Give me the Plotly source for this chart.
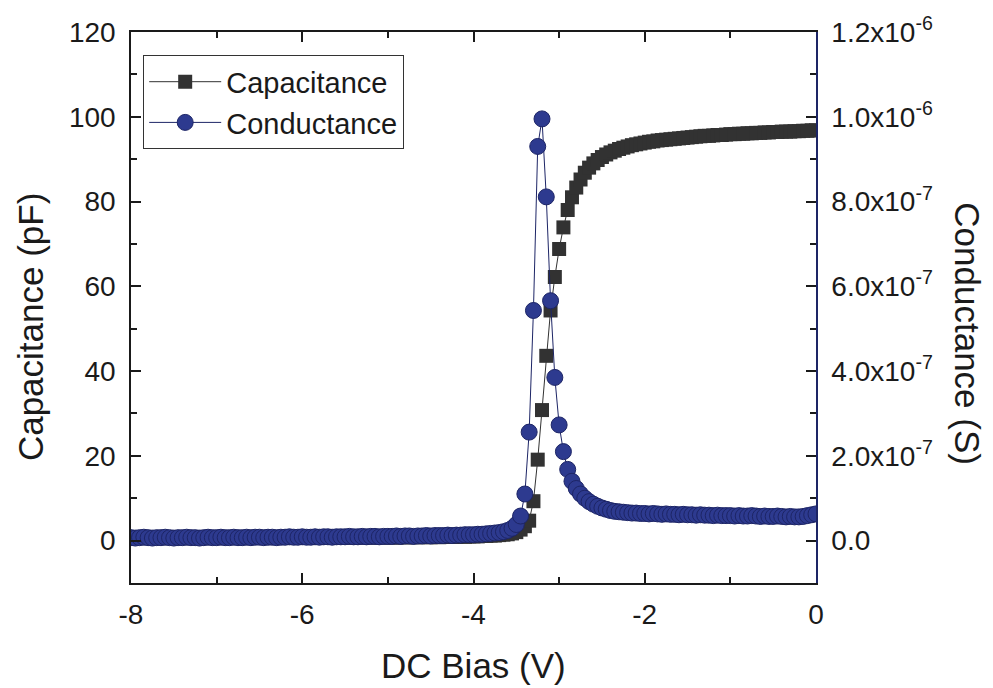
import plotly.graph_objects as go

# ---- data ----
DC_BIAS = [
    -8.00, -7.95, -7.90, -7.85, -7.80, -7.75, -7.70, -7.65, -7.60, -7.55,
    -7.50, -7.45, -7.40, -7.35, -7.30, -7.25, -7.20, -7.15, -7.10, -7.05,
    -7.00, -6.95, -6.90, -6.85, -6.80, -6.75, -6.70, -6.65, -6.60, -6.55,
    -6.50, -6.45, -6.40, -6.35, -6.30, -6.25, -6.20, -6.15, -6.10, -6.05,
    -6.00, -5.95, -5.90, -5.85, -5.80, -5.75, -5.70, -5.65, -5.60, -5.55,
    -5.50, -5.45, -5.40, -5.35, -5.30, -5.25, -5.20, -5.15, -5.10, -5.05,
    -5.00, -4.95, -4.90, -4.85, -4.80, -4.75, -4.70, -4.65, -4.60, -4.55,
    -4.50, -4.45, -4.40, -4.35, -4.30, -4.25, -4.20, -4.15, -4.10, -4.05,
    -4.00, -3.95, -3.90, -3.85, -3.80, -3.75, -3.70, -3.65, -3.60, -3.55,
    -3.50, -3.45, -3.40, -3.35, -3.30, -3.25, -3.20, -3.15, -3.10, -3.05,
    -3.00, -2.95, -2.90, -2.85, -2.80, -2.75, -2.70, -2.65, -2.60, -2.55,
    -2.50, -2.45, -2.40, -2.35, -2.30, -2.25, -2.20, -2.15, -2.10, -2.05,
    -2.00, -1.95, -1.90, -1.85, -1.80, -1.75, -1.70, -1.65, -1.60, -1.55,
    -1.50, -1.45, -1.40, -1.35, -1.30, -1.25, -1.20, -1.15, -1.10, -1.05,
    -1.00, -0.95, -0.90, -0.85, -0.80, -0.75, -0.70, -0.65, -0.60, -0.55,
    -0.50, -0.45, -0.40, -0.35, -0.30, -0.25, -0.20, -0.15, -0.10, -0.05,
    0.00,
]

CAPACITANCE_PF = [
    0.6, 0.6, 0.7, 0.6, 0.6, 0.7, 0.6, 0.6, 0.7, 0.6,
    0.6, 0.7, 0.6, 0.6, 0.7, 0.6, 0.7, 0.6, 0.6, 0.7,
    0.7, 0.6, 0.7, 0.7, 0.6, 0.7, 0.7, 0.6, 0.7, 0.7,
    0.7, 0.7, 0.6, 0.7, 0.7, 0.7, 0.6, 0.7, 0.7, 0.7,
    0.7, 0.7, 0.7, 0.8, 0.7, 0.7, 0.7, 0.8, 0.7, 0.7,
    0.8, 0.7, 0.7, 0.8, 0.7, 0.8, 0.7, 0.8, 0.8, 0.7,
    0.8, 0.8, 0.7, 0.8, 0.8, 0.8, 0.8, 0.8, 0.9, 0.8,
    0.8, 0.9, 0.8, 0.9, 0.9, 0.9, 0.9, 1.0, 0.9, 1.0,
    1.0, 1.0, 1.1, 1.1, 1.2, 1.2, 1.3, 1.4, 1.5, 1.7,
    2.0, 2.6, 3.4, 4.7, 9.3, 19.1, 30.8, 43.6, 54.3, 62.2,
    68.8, 73.9, 78.0, 81.0, 83.3, 85.2, 86.8, 88.0, 89.0, 89.8,
    90.5, 91.1, 91.6, 92.0, 92.4, 92.7, 93.0, 93.3, 93.5, 93.7,
    93.9, 94.1, 94.2, 94.4, 94.5, 94.6, 94.7, 94.8, 94.9, 95.0,
    95.1, 95.2, 95.3, 95.4, 95.5, 95.5, 95.6, 95.7, 95.7, 95.8,
    95.9, 95.9, 96.0, 96.0, 96.1, 96.1, 96.2, 96.2, 96.3, 96.3,
    96.4, 96.4, 96.5, 96.5, 96.5, 96.6, 96.6, 96.7, 96.7, 96.8,
    96.8,
]

# conductance, in units of 1e-8 S
CONDUCTANCE_1E8 = [
    0.7, 0.6, 0.7, 0.8, 0.7, 0.6, 0.7, 0.7, 0.8, 0.7,
    0.6, 0.7, 0.7, 0.8, 0.7, 0.7, 0.6, 0.7, 0.8, 0.7,
    0.7, 0.8, 0.7, 0.7, 0.8, 0.7, 0.7, 0.8, 0.7, 0.8,
    0.8, 0.7, 0.8, 0.8, 0.7, 0.8, 0.8, 0.9, 0.8, 0.8,
    0.9, 0.8, 0.8, 0.9, 0.8, 0.9, 0.9, 0.8, 0.9, 0.9,
    0.9, 1.0, 0.9, 0.9, 1.0, 0.9, 1.0, 1.0, 0.9, 1.0,
    1.0, 1.0, 1.1, 1.0, 1.1, 1.1, 1.0, 1.1, 1.1, 1.2,
    1.1, 1.2, 1.2, 1.2, 1.3, 1.2, 1.3, 1.3, 1.4, 1.4,
    1.4, 1.5, 1.5, 1.6, 1.7, 1.8, 1.9, 2.1, 2.4, 2.9,
    3.8, 5.8, 11.0, 25.6, 54.3, 93.0, 99.5, 81.1, 56.6, 38.5,
    27.3, 21.0, 16.8, 14.0, 12.3, 11.0, 10.0, 9.2, 8.6, 8.1,
    7.7, 7.4, 7.1, 6.9, 6.8, 6.7, 6.6, 6.5, 6.5, 6.4,
    6.4, 6.3, 6.4, 6.3, 6.2, 6.3, 6.2, 6.2, 6.1, 6.2,
    6.1, 6.1, 6.0, 6.1, 6.0, 6.0, 5.9, 6.0, 5.9, 5.9,
    5.9, 5.8, 5.9, 5.8, 5.8, 5.9, 5.8, 5.7, 5.8, 5.7,
    5.7, 5.8, 5.7, 5.6, 5.7, 5.6, 5.6, 5.7, 5.9, 6.1,
    6.3,
]
CONDUCTANCE_S = [v * 1e-8 for v in CONDUCTANCE_1E8]

X_TICKS = [-8, -6, -4, -2, 0]
X_TICKTEXT = ["-8", "-6", "-4", "-2", "0"]
X_MINOR = [-7, -5, -3, -1]
Y_TICKS = [0, 20, 40, 60, 80, 100, 120]
Y_TICKTEXT = ["0", "20", "40", "60", "80", "100", "120"]
Y_MINOR = [10, 30, 50, 70, 90, 110]
Y2_TICKS = [0.0, 2e-7, 4e-7, 6e-7, 8e-7, 1.0e-6, 1.2e-6]
Y2_TICKTEXT = ["0.0", "2.0x10<sup>-7</sup>", "4.0x10<sup>-7</sup>", "6.0x10<sup>-7</sup>",
               "8.0x10<sup>-7</sup>", "1.0x10<sup>-6</sup>", "1.2x10<sup>-6</sup>"]
Y2_MINOR = [1e-7, 3e-7, 5e-7, 7e-7, 9e-7, 1.1e-6]

# ---- styling ----
FONT = "Liberation Sans, Arial, sans-serif"
INK = "#1a1a1a"
CAP_COLOR = "#323232"
COND_FILL = "#2d3a8f"
COND_EDGE = "#1d2566"

fig = go.Figure()
fig.add_trace(go.Scatter(
    x=DC_BIAS, y=CAPACITANCE_PF, name="Capacitance", mode="lines+markers",
    marker=dict(symbol="square", size=14, color=CAP_COLOR, line=dict(width=0)),
    line=dict(color=CAP_COLOR, width=1),
))
fig.add_trace(go.Scatter(
    x=DC_BIAS, y=CONDUCTANCE_S, name="Conductance", mode="lines+markers", yaxis="y2",
    marker=dict(symbol="circle", size=16, color=COND_FILL, line=dict(color=COND_EDGE, width=1)),
    line=dict(color=COND_EDGE, width=1),
))

axis_common = dict(
    showline=True, linewidth=1.5, linecolor=INK, showgrid=False, zeroline=False,
    ticks="inside", ticklen=10, tickwidth=1.5, tickcolor=INK,
    tickfont=dict(family=FONT, size=28, color=INK),
)

fig.update_layout(
    width=993, height=688, autosize=False,
    margin=dict(l=131, r=177, t=25, b=105),
    paper_bgcolor="white", plot_bgcolor="white",
    font=dict(family=FONT, color=INK),
    showlegend=True,
    legend=dict(
        x=0.0175, y=0.958, xanchor="left", yanchor="top",
        bordercolor="#333333", borderwidth=1.2, bgcolor="white",
        font=dict(family=FONT, size=29, color=INK),
        itemwidth=72, tracegroupgap=0,
    ),
    xaxis=dict(
        range=[-8, 0], tickmode="array", tickvals=X_TICKS, ticktext=X_TICKTEXT, mirror="ticks",
        minor=dict(tickmode="array", tickvals=X_MINOR, ticks="inside", ticklen=6,
                   tickwidth=1.5, tickcolor=INK),
        ticklabelstandoff=6,
        **axis_common,
    ),
    yaxis=dict(
        range=[-10, 120], tickmode="array", tickvals=Y_TICKS, ticktext=Y_TICKTEXT, mirror=False,
        minor=dict(tickmode="array", tickvals=Y_MINOR, ticks="inside", ticklen=6,
                   tickwidth=1.5, tickcolor=INK),
        ticklabelstandoff=8,
        **axis_common,
    ),
    yaxis2=dict(
        overlaying="y", side="right",
        range=[-1e-7, 1.2e-6], tickmode="array", tickvals=Y2_TICKS, ticktext=Y2_TICKTEXT,
        minor=dict(tickmode="array", tickvals=Y2_MINOR, ticks="inside", ticklen=6,
                   tickwidth=1.5, tickcolor=INK),
        ticklabelstandoff=8,
        **{**axis_common, "linecolor": COND_EDGE},
    ),
    annotations=[
        dict(text="DC Bias (V)", xref="paper", yref="paper", x=0.5, y=-0.149,
             xanchor="center", yanchor="middle", showarrow=False,
             font=dict(family=FONT, size=35, color=INK)),
        dict(text="Capacitance (pF)", xref="paper", yref="paper", x=-0.147, y=0.465,
             xanchor="center", yanchor="middle", showarrow=False, textangle=-90,
             font=dict(family=FONT, size=35, color=INK)),
        dict(text="Conductance (S)", xref="paper", yref="paper", x=1.222, y=0.453,
             xanchor="center", yanchor="middle", showarrow=False, textangle=90,
             font=dict(family=FONT, size=35, color=INK)),
    ],
)

fig.write_html("out.html")
